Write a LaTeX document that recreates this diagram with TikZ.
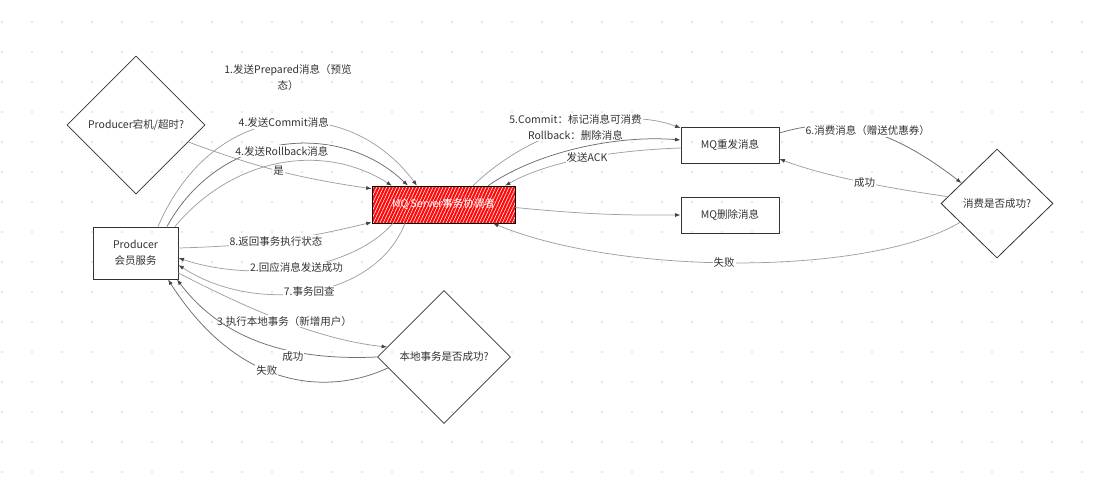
\documentclass[tikz,border=0pt]{standalone}
\usepackage{fontspec}
\setmainfont{Noto Sans CJK SC}
\usetikzlibrary{shapes.geometric,arrows.meta,patterns.meta}
\definecolor{txt}{HTML}{333333}
\definecolor{ln}{HTML}{A0A0A0}
\definecolor{lnd}{HTML}{6E6E6E}
\definecolor{tipc}{HTML}{444444}
\definecolor{dotc}{HTML}{E2E2E2}
\definecolor{mqred}{HTML}{FF0A0A}
\begin{document}
\begin{tikzpicture}[x=1pt,y=-1pt,
  font=\fontsize{10.5}{16}\selectfont,
  box/.style={draw=txt,line width=0.9pt,text=txt,align=center},
  dia/.style={diamond,draw=txt,line width=0.8pt,inner sep=0pt,text=txt},
  conn/.style={draw=ln,line width=0.75pt,-{Latex[length=5.5pt,width=4pt,color=tipc]}},
  connd/.style={conn,draw=lnd},
  lbl/.style={text=txt,fill=white,inner sep=1pt},
]
\useasboundingbox (0,0) rectangle (1111,484);
\fill[white] (0,0) rectangle (1111,484);
% grid dots
\foreach \i in {0,...,36}{\foreach \j in {0,...,15}{\fill[dotc] (2+30*\i,22+30*\j) circle (1.2pt);}}
% nodes
\node[dia,minimum width=138pt,minimum height=138pt] (d1) at (136,125) {Producer宕机/超时?};
\node[box,minimum width=85pt,minimum height=52pt] (prod) at (135.5,253) {Producer\\会员服务};
\node[draw=black,line width=0.9pt,preaction={fill=mqred},
      pattern={Lines[angle=65,distance=3pt,line width=0.55pt]},pattern color=white,
      minimum width=143pt,minimum height=37pt,text=white] (mq) at (443.5,204.5) {MQ Server事务协调者};
\node[box,minimum width=98pt,minimum height=36pt] (rs) at (730,145) {MQ重发消息};
\node[box,minimum width=98pt,minimum height=36pt] (del) at (730,215) {MQ删除消息};
\node[dia,minimum width=112pt,minimum height=109pt] (d2) at (997,203.5) {消费是否成功?};
\node[dia,minimum width=133pt,minimum height=133pt] (d3) at (444,357) {本地事务是否成功?};
\node[text=txt,align=center] (l1) at (288,78) {1.发送Prepared消息（预览\\态）};
% connectors producer -> MQ top
\draw[conn] ([xshift=22.5pt]prod.north) .. controls (215,95) and (350,95) .. node[lbl,pos=0.5]{4.发送Commit消息} ([xshift=-26.5pt]mq.north);
\draw[connd] ([xshift=31.5pt]prod.north) .. controls (220,130) and (340,120) .. node[lbl,pos=0.5,yshift=-6pt]{4.发送Rollback消息} ([xshift=-35.5pt]mq.north);
\draw[conn] ([xshift=39.5pt]prod.north) .. controls (230,160) and (320,140) .. ([xshift=-51.5pt]mq.north);
\draw[conn] (d1.-18) to[bend right=6] node[lbl,pos=0.5]{是} ([yshift=-3pt]mq.north west);
% producer <-> MQ side
\draw[conn] ([yshift=5pt]prod.east) to[bend right=6] node[lbl,pos=0.5]{8.返回事务执行状态} ([yshift=1pt]mq.south west);
\draw[conn] ([xshift=-50.5pt]mq.south) .. controls (350,272) and (250,282) .. node[lbl,pos=0.5]{2.回应消息发送成功} ([yshift=-5pt]prod.east);
\draw[conn] ([xshift=-38.5pt]mq.south) .. controls (375,300) and (255,315) .. node[lbl,pos=0.5]{7.事务回查} ([yshift=-12pt]prod.east);
% producer <-> local transaction
\draw[conn] ([yshift=-20pt]prod.east) .. controls (250,310) and (320,340) .. node[lbl,pos=0.5]{3.执行本地事务（新增用户）} (d3.170);
\draw[connd] (d3.west) .. controls (310,360) and (230,350) .. node[lbl,pos=0.4,yshift=-5pt]{成功} ([xshift=41.5pt]prod.south);
\draw[connd] (d3.191) .. controls (330,395) and (240,392) .. node[lbl,pos=0.57]{失败} ([xshift=32.5pt]prod.south);
% MQ right side
\draw[conn] ([xshift=29.5pt]mq.north) .. controls (530,130) and (620,105) .. node[lbl,pos=0.5,align=center]{5.Commit：标记消息可消费\\Rollback：删除消息} ([yshift=17pt]rs.west);
\draw[connd] ([xshift=44.5pt]mq.north) .. controls (540,150) and (620,135) .. ([yshift=5pt]rs.west);
\draw[conn] ([yshift=-3pt]rs.west) .. controls (620,150) and (550,160) .. node[lbl,pos=0.5]{发送ACK} ([xshift=61.5pt]mq.north);
\draw[conn] ([yshift=-3pt]mq.east) to[bend right=3] (del.west);
\draw[connd] ([yshift=12pt]rs.east) .. controls (830,118) and (880,120) .. node[lbl,pos=0.55]{6.消费消息（赠送优惠券）} (d2.150);
\draw[conn] (d2.172) .. controls (900,190) and (830,178) .. node[lbl,pos=0.5]{成功} ([yshift=-14pt]rs.east);
\draw[conn] (d2.207) .. controls (870,276) and (620,276) .. node[lbl,pos=0.53]{失败} ([xshift=49.5pt]mq.south);
\end{tikzpicture}
\end{document}
